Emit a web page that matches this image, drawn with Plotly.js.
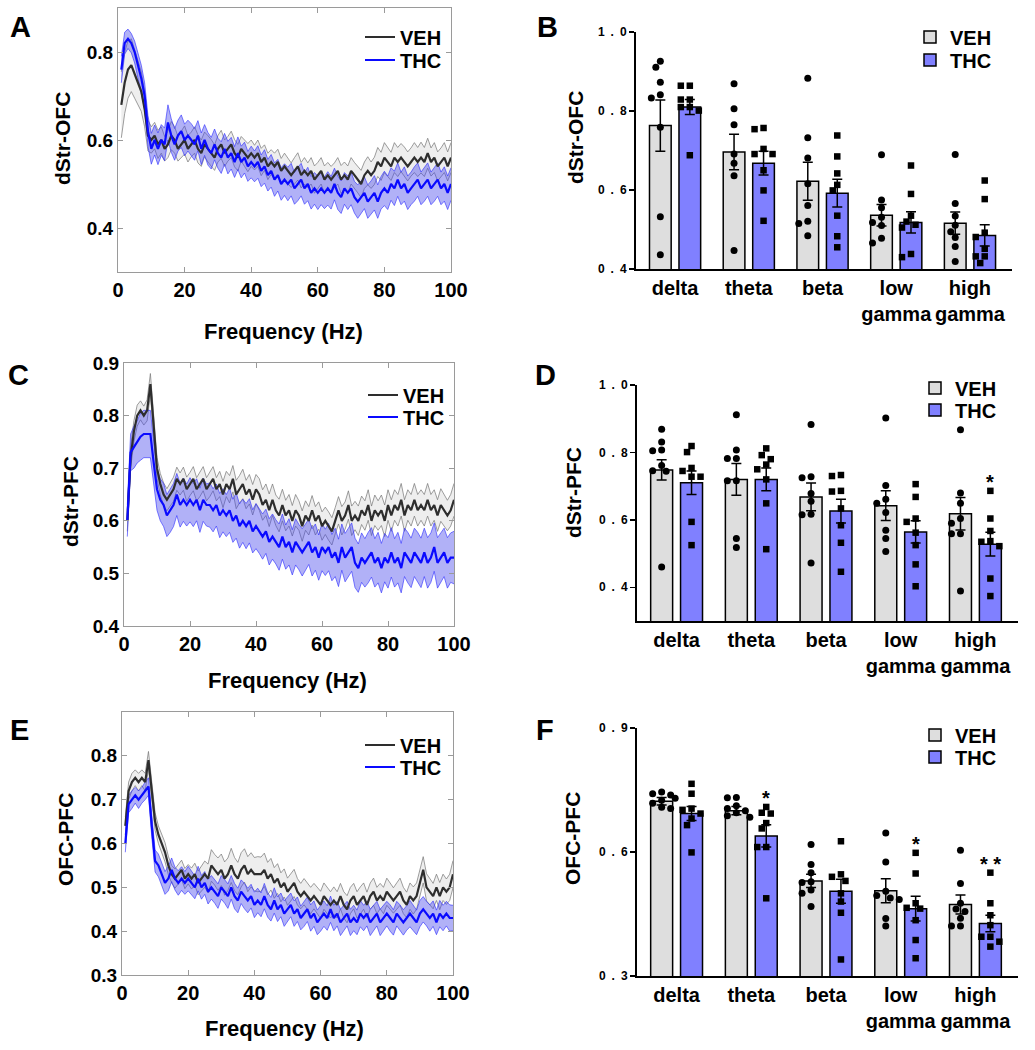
<!DOCTYPE html>
<html><head><meta charset="utf-8">
<script src="https://cdn.plot.ly/plotly-3.0.1.min.js"></script>
<style>html,body{margin:0;padding:0;background:#fff}#chart{width:1035px;height:1050px}</style>
</head><body><div id="chart"></div>
<script>
// ---------- frequency axis (Hz) ----------
const freq = [1,2,3,4,5,6,7,8,9,10,11,12,13,14,15,16,17,18,19,20,21,22,23,24,25,26,27,28,29,30,31,32,33,34,35,36,37,38,39,40,41,42,43,44,45,46,47,48,49,50,51,52,53,54,55,56,57,58,59,60,61,62,63,64,65,66,67,68,69,70,71,72,73,74,75,76,77,78,79,80,81,82,83,84,85,86,87,88,89,90,91,92,93,94,95,96,97,98,99,100];

// ---------- Panel A: dStr-OFC coherence ----------
const A_veh_mean = [0.68,0.73,0.76,0.77,0.75,0.73,0.71,0.67,0.61,0.60,
0.61,0.59,0.60,0.58,0.59,0.61,0.60,0.58,0.59,0.60,
0.58,0.59,0.60,0.58,0.57,0.59,0.58,0.57,0.56,0.58,
0.59,0.57,0.58,0.59,0.57,0.56,0.58,0.57,0.56,0.57,
0.56,0.57,0.55,0.56,0.54,0.55,0.54,0.55,0.53,0.54,
0.53,0.52,0.53,0.54,0.52,0.53,0.52,0.53,0.51,0.52,
0.53,0.51,0.52,0.51,0.52,0.53,0.51,0.52,0.51,0.53,
0.52,0.51,0.50,0.52,0.53,0.52,0.53,0.55,0.54,0.56,
0.55,0.54,0.56,0.55,0.56,0.55,0.54,0.55,0.56,0.55,
0.56,0.55,0.57,0.55,0.56,0.54,0.55,0.56,0.54,0.56];
const A_veh_sem = [0.075,0.07,0.065,0.06,0.055,0.05,0.045,0.04,0.035,0.03,
0.03,0.032,0.03,0.028,0.03,0.032,0.03,0.028,0.03,0.032,
0.03,0.028,0.03,0.032,0.03,0.028,0.03,0.031,0.029,0.03,
0.032,0.03,0.028,0.03,0.031,0.03,0.028,0.03,0.032,0.03,
0.028,0.03,0.031,0.029,0.03,0.028,0.03,0.029,0.028,0.03,
0.029,0.028,0.03,0.031,0.029,0.03,0.028,0.03,0.031,0.029,
0.03,0.031,0.029,0.03,0.028,0.03,0.032,0.03,0.031,0.03,
0.029,0.03,0.031,0.03,0.032,0.03,0.031,0.033,0.032,0.034,
0.033,0.032,0.034,0.033,0.032,0.034,0.033,0.032,0.034,0.033,
0.035,0.033,0.034,0.032,0.034,0.033,0.032,0.034,0.033,0.034];
const A_thc_mean = [0.76,0.82,0.83,0.82,0.80,0.77,0.74,0.70,0.62,0.58,
0.60,0.58,0.60,0.59,0.64,0.61,0.59,0.61,0.62,0.60,
0.61,0.60,0.59,0.61,0.58,0.60,0.58,0.57,0.59,0.57,
0.56,0.58,0.56,0.57,0.55,0.57,0.55,0.56,0.54,0.55,
0.54,0.55,0.53,0.54,0.52,0.53,0.51,0.52,0.50,0.51,
0.50,0.51,0.49,0.50,0.51,0.49,0.50,0.48,0.49,0.48,
0.49,0.48,0.49,0.48,0.50,0.48,0.47,0.49,0.48,0.49,
0.47,0.46,0.47,0.48,0.46,0.47,0.48,0.46,0.48,0.49,
0.48,0.50,0.49,0.51,0.49,0.50,0.48,0.49,0.50,0.51,
0.49,0.50,0.51,0.49,0.50,0.51,0.49,0.50,0.48,0.50];
const A_thc_sem = [0.03,0.025,0.022,0.022,0.025,0.028,0.03,0.03,0.035,0.035,
0.034,0.036,0.035,0.037,0.04,0.038,0.036,0.035,0.037,0.036,
0.035,0.037,0.036,0.034,0.036,0.035,0.037,0.036,0.035,0.034,
0.036,0.035,0.037,0.036,0.035,0.037,0.036,0.035,0.034,0.036,
0.035,0.037,0.036,0.038,0.036,0.037,0.038,0.036,0.037,0.036,
0.038,0.037,0.036,0.038,0.037,0.036,0.038,0.037,0.036,0.038,
0.037,0.036,0.038,0.037,0.036,0.038,0.037,0.036,0.038,0.037,
0.036,0.038,0.037,0.036,0.038,0.037,0.039,0.038,0.037,0.039,
0.038,0.037,0.039,0.038,0.037,0.039,0.038,0.037,0.039,0.038,
0.037,0.039,0.038,0.037,0.039,0.038,0.037,0.039,0.038,0.037];

// ---------- Panel C: dStr-PFC coherence ----------
const C_veh_mean = [0.60,0.72,0.77,0.80,0.81,0.80,0.81,0.86,0.78,0.70,
0.67,0.65,0.64,0.65,0.66,0.68,0.67,0.68,0.66,0.67,
0.68,0.66,0.67,0.68,0.66,0.67,0.68,0.66,0.67,0.65,
0.67,0.66,0.68,0.65,0.66,0.67,0.65,0.66,0.64,0.66,
0.65,0.63,0.64,0.62,0.64,0.62,0.61,0.63,0.61,0.62,
0.60,0.62,0.61,0.59,0.61,0.60,0.62,0.60,0.61,0.59,
0.60,0.59,0.58,0.60,0.62,0.60,0.61,0.63,0.60,0.61,
0.60,0.62,0.61,0.63,0.60,0.62,0.61,0.62,0.60,0.63,
0.61,0.63,0.62,0.64,0.61,0.63,0.62,0.64,0.62,0.63,
0.62,0.64,0.62,0.63,0.61,0.63,0.62,0.61,0.62,0.64];
const C_veh_sem = [0.02,0.02,0.02,0.02,0.018,0.018,0.02,0.02,0.02,0.02,
0.02,0.022,0.021,0.022,0.023,0.022,0.021,0.022,0.023,0.022,
0.023,0.022,0.024,0.023,0.022,0.024,0.023,0.022,0.024,0.025,
0.024,0.026,0.025,0.027,0.026,0.028,0.027,0.028,0.029,0.028,
0.03,0.029,0.03,0.031,0.03,0.029,0.031,0.03,0.029,0.03,
0.029,0.03,0.028,0.029,0.028,0.027,0.028,0.027,0.026,0.027,
0.026,0.027,0.026,0.025,0.026,0.027,0.026,0.027,0.028,0.027,
0.028,0.027,0.028,0.029,0.028,0.029,0.028,0.029,0.03,0.029,
0.03,0.029,0.03,0.031,0.03,0.029,0.03,0.031,0.03,0.029,
0.03,0.031,0.03,0.029,0.03,0.031,0.03,0.029,0.03,0.031];
const C_thc_mean = [0.60,0.73,0.74,0.75,0.76,0.765,0.765,0.765,0.71,0.66,
0.64,0.63,0.61,0.62,0.63,0.65,0.63,0.64,0.63,0.64,
0.63,0.64,0.62,0.64,0.63,0.63,0.62,0.63,0.61,0.62,
0.61,0.62,0.60,0.61,0.59,0.60,0.59,0.60,0.58,0.59,
0.58,0.57,0.58,0.56,0.57,0.56,0.55,0.57,0.55,0.56,
0.54,0.56,0.55,0.54,0.55,0.56,0.54,0.55,0.53,0.55,
0.54,0.55,0.53,0.54,0.52,0.55,0.53,0.54,0.55,0.52,
0.51,0.53,0.52,0.53,0.54,0.52,0.53,0.51,0.53,0.52,
0.54,0.52,0.53,0.51,0.54,0.53,0.52,0.54,0.53,0.52,
0.54,0.52,0.53,0.55,0.52,0.53,0.54,0.52,0.53,0.53];
const C_thc_sem = [0.03,0.035,0.04,0.04,0.045,0.045,0.045,0.045,0.04,0.04,
0.04,0.041,0.04,0.042,0.041,0.04,0.042,0.041,0.04,0.042,
0.041,0.04,0.042,0.041,0.04,0.042,0.041,0.04,0.042,0.041,
0.04,0.042,0.041,0.043,0.042,0.041,0.043,0.042,0.041,0.043,
0.042,0.043,0.042,0.044,0.043,0.042,0.044,0.043,0.042,0.044,
0.043,0.044,0.043,0.045,0.044,0.043,0.045,0.044,0.043,0.045,
0.044,0.045,0.044,0.046,0.045,0.044,0.046,0.045,0.046,0.047,
0.046,0.047,0.046,0.048,0.047,0.046,0.048,0.047,0.046,0.048,
0.047,0.046,0.048,0.047,0.046,0.048,0.047,0.046,0.048,0.047,
0.046,0.048,0.047,0.046,0.048,0.047,0.046,0.048,0.047,0.05];

// ---------- Panel E: OFC-PFC coherence ----------
const E_veh_mean = [0.64,0.72,0.74,0.75,0.74,0.75,0.74,0.79,0.72,0.65,
0.62,0.60,0.58,0.55,0.53,0.52,0.53,0.54,0.52,0.53,
0.52,0.53,0.51,0.52,0.53,0.52,0.55,0.54,0.53,0.54,
0.52,0.53,0.55,0.53,0.52,0.54,0.55,0.53,0.54,0.53,
0.53,0.53,0.54,0.52,0.53,0.51,0.52,0.50,0.51,0.49,
0.50,0.51,0.49,0.48,0.49,0.48,0.47,0.48,0.47,0.46,
0.48,0.47,0.46,0.47,0.46,0.48,0.46,0.45,0.47,0.48,
0.46,0.47,0.48,0.46,0.48,0.49,0.47,0.48,0.47,0.49,
0.48,0.47,0.48,0.49,0.47,0.46,0.48,0.47,0.48,0.51,
0.54,0.50,0.49,0.48,0.50,0.48,0.50,0.49,0.50,0.53];
const E_veh_sem = [0.02,0.02,0.02,0.018,0.02,0.018,0.02,0.02,0.02,0.02,
0.02,0.021,0.022,0.021,0.02,0.022,0.021,0.022,0.023,0.022,
0.024,0.025,0.027,0.028,0.03,0.033,0.036,0.035,0.037,0.036,
0.038,0.037,0.039,0.038,0.037,0.039,0.038,0.04,0.039,0.038,
0.04,0.039,0.038,0.037,0.036,0.035,0.034,0.033,0.032,0.031,
0.03,0.031,0.03,0.029,0.03,0.031,0.03,0.029,0.03,0.031,
0.03,0.029,0.03,0.031,0.03,0.029,0.03,0.031,0.03,0.029,
0.03,0.031,0.03,0.029,0.03,0.031,0.03,0.029,0.03,0.031,
0.03,0.029,0.03,0.031,0.03,0.029,0.03,0.031,0.03,0.029,
0.03,0.031,0.03,0.029,0.03,0.031,0.03,0.029,0.03,0.031];
const E_thc_mean = [0.60,0.69,0.70,0.71,0.70,0.71,0.72,0.73,0.64,0.56,
0.55,0.53,0.51,0.52,0.54,0.52,0.51,0.52,0.51,0.52,
0.51,0.50,0.52,0.50,0.51,0.49,0.50,0.49,0.48,0.50,
0.49,0.48,0.50,0.48,0.47,0.49,0.48,0.47,0.48,0.46,
0.47,0.46,0.48,0.46,0.45,0.47,0.45,0.46,0.44,0.45,
0.46,0.44,0.45,0.43,0.44,0.45,0.43,0.44,0.42,0.43,
0.44,0.43,0.45,0.43,0.44,0.42,0.43,0.44,0.42,0.43,
0.42,0.44,0.43,0.44,0.42,0.43,0.44,0.42,0.43,0.44,
0.43,0.42,0.44,0.43,0.42,0.43,0.44,0.43,0.42,0.44,
0.45,0.44,0.43,0.44,0.42,0.44,0.43,0.44,0.43,0.43];
const E_thc_sem = [0.02,0.02,0.02,0.018,0.02,0.018,0.02,0.02,0.025,0.025,
0.026,0.027,0.026,0.028,0.027,0.026,0.028,0.027,0.026,0.028,
0.027,0.026,0.028,0.027,0.026,0.028,0.027,0.026,0.028,0.027,
0.026,0.028,0.027,0.029,0.028,0.027,0.029,0.028,0.027,0.029,
0.028,0.027,0.029,0.028,0.027,0.029,0.028,0.027,0.029,0.028,
0.027,0.029,0.028,0.027,0.029,0.028,0.03,0.029,0.028,0.03,
0.029,0.028,0.03,0.029,0.028,0.03,0.029,0.028,0.03,0.029,
0.028,0.03,0.029,0.028,0.03,0.029,0.028,0.03,0.029,0.028,
0.03,0.029,0.028,0.03,0.029,0.028,0.03,0.029,0.028,0.03,
0.029,0.028,0.03,0.029,0.028,0.03,0.029,0.028,0.03,0.029];

// ---------- bar panels ----------
const bands = ['delta','theta','beta','low<br>gamma','high<br>gamma'];
const groups = ['VEH','THC'];

// Panel B: dStr-OFC
const B_veh_mean = [0.763,0.696,0.622,0.536,0.516];
const B_veh_sem  = [0.065,0.045,0.048,0.027,0.028];
const B_thc_mean = [0.810,0.668,0.592,0.518,0.485];
const B_thc_sem  = [0.019,0.030,0.035,0.027,0.027];
const B_veh_pts = [
 [0.926,0.911,0.873,0.841,0.833,0.759,0.532,0.436],
 [0.869,0.806,0.765,0.691,0.668,0.636,0.447],
 [0.883,0.732,0.681,0.616,0.561,0.521,0.515,0.484],
 [0.689,0.575,0.555,0.531,0.518,0.510,0.478,0.466],
 [0.690,0.566,0.534,0.511,0.494,0.480,0.457,0.419]];
const B_thc_pts = [
 [0.864,0.864,0.829,0.829,0.810,0.810,0.801,0.688],
 [0.757,0.754,0.704,0.691,0.691,0.650,0.599,0.522],
 [0.738,0.685,0.642,0.613,0.599,0.535,0.483,0.455],
 [0.662,0.590,0.535,0.520,0.512,0.505,0.438,0.430],
 [0.624,0.577,0.492,0.481,0.451,0.432,0.432,0.415]];
const B_sig = ['','','','',''];

// Panel D: dStr-PFC
const D_veh_mean = [0.748,0.720,0.668,0.642,0.618];
const D_veh_sem  = [0.030,0.047,0.041,0.044,0.048];
const D_thc_mean = [0.710,0.720,0.626,0.564,0.528];
const D_thc_sem  = [0.035,0.034,0.035,0.033,0.035];
const D_veh_pts = [
 [0.869,0.831,0.807,0.805,0.761,0.746,0.744,0.460],
 [0.912,0.807,0.782,0.782,0.716,0.716,0.545,0.518],
 [0.883,0.728,0.725,0.678,0.655,0.617,0.615,0.472],
 [0.902,0.702,0.661,0.649,0.622,0.569,0.545,0.506],
 [0.867,0.680,0.649,0.604,0.590,0.559,0.559,0.389]];
const D_thc_pts = [
 [0.819,0.801,0.754,0.745,0.728,0.728,0.594,0.525],
 [0.812,0.792,0.780,0.764,0.750,0.720,0.649,0.513],
 [0.733,0.730,0.686,0.684,0.634,0.584,0.532,0.446],
 [0.706,0.668,0.604,0.594,0.562,0.525,0.468,0.403],
 [0.686,0.604,0.567,0.537,0.535,0.522,0.426,0.374]];
const D_sig = ['','','','','*'];

// Panel F: OFC-PFC
const F_veh_mean = [0.723,0.700,0.530,0.506,0.473];
const F_veh_sem  = [0.009,0.010,0.016,0.029,0.023];
const F_thc_mean = [0.693,0.639,0.505,0.463,0.427];
const F_thc_sem  = [0.017,0.027,0.029,0.030,0.020];
const F_veh_pts = [
 [0.745,0.741,0.738,0.730,0.725,0.718,0.708,0.705],
 [0.732,0.731,0.712,0.705,0.700,0.695,0.688,0.684],
 [0.618,0.570,0.550,0.528,0.526,0.508,0.500,0.468],
 [0.646,0.576,0.505,0.495,0.489,0.485,0.439,0.421],
 [0.604,0.524,0.476,0.462,0.456,0.440,0.421,0.421]];
const F_thc_pts = [
 [0.765,0.741,0.705,0.702,0.693,0.681,0.665,0.599],
 [0.709,0.695,0.693,0.670,0.657,0.612,0.612,0.488],
 [0.626,0.546,0.540,0.530,0.500,0.480,0.453,0.340],
 [0.598,0.548,0.476,0.465,0.463,0.435,0.387,0.343],
 [0.550,0.476,0.447,0.423,0.395,0.395,0.383,0.371]];
const F_sig = ['','*','','*','* *'];

// ---------- layout helpers ----------
const W = 1035, H = 1050;
const X = px => px / W;
const Y = py => 1 - py / H;
const FONT = 'Liberation Sans, Arial, Helvetica, sans-serif';
const bold = (s) => ({family: FONT, size: s, color: '#000', weight: 'bold'});

const traces = [];
const layout = {
  width: W, height: H, margin: {l:0, r:0, t:0, b:0},
  paper_bgcolor: '#fff', plot_bgcolor: '#fff',
  font: {family: FONT, color: '#000'},
  showlegend: true, annotations: [], barmode: 'overlay'
};
let legCount = 0;
function newLegend(xpx, ypx, itemwidth) {
  legCount++;
  const id = legCount === 1 ? 'legend' : 'legend' + legCount;
  const L = {x:X(xpx), y:Y(ypx), xanchor:'left', yanchor:'middle', bgcolor:'rgba(0,0,0,0)',
    font:bold(20), traceorder:'normal', borderwidth:0};
  if (itemwidth) L.itemwidth = itemwidth;
  layout[id] = L;
  return id;
}

// ---------- line panels ----------
const linePanels = [
  {n:1, vm:A_veh_mean, vs:A_veh_sem, tm:A_thc_mean, ts:A_thc_sem, dom:[118,451,8,272], yr:[0.3,0.9], yt:[0.4,0.6,0.8], title:'dStr-OFC', tx:62, ty:139, fx:283, fy:331, leg:[360,37,60]},
  {n:3, vm:C_veh_mean, vs:C_veh_sem, tm:C_thc_mean, ts:C_thc_sem, dom:[124,454,363,626], yr:[0.4,0.9], yt:[0.4,0.5,0.6,0.7,0.8,0.9], title:'dStr-PFC', tx:70, ty:502, fx:287, fy:680, leg:[363,395,417]},
  {n:5, vm:E_veh_mean, vs:E_veh_sem, tm:E_thc_mean, ts:E_thc_sem, dom:[122,453,712,975], yr:[0.3,0.9], yt:[0.3,0.4,0.5,0.6,0.7,0.8], title:'OFC-PFC', tx:65, ty:840, fx:284, fy:1028, leg:[360,745,767]}
];
linePanels.forEach(p => {
  const xa = p.n === 1 ? 'x' : 'x' + p.n, ya = p.n === 1 ? 'y' : 'y' + p.n;
  const series = [
    {name:'VEH', m:p.vm, s:p.vs, line:'#2e2e2e', edge:'rgba(120,120,120,0.9)', fill:'rgba(205,205,205,0.35)', ly:p.leg[1]},
    {name:'THC', m:p.tm, s:p.ts, line:'#0a0aff', edge:'rgba(40,40,255,0.75)', fill:'rgba(70,70,235,0.42)', ly:p.leg[2]}
  ];
  series.forEach(sr => {
    traces.push({type:'scatter', mode:'lines', x:freq, y:sr.m.map((v,i)=>v - sr.s[i]), xaxis:xa, yaxis:ya,
      line:{color:sr.edge, width:0.8}, showlegend:false, hoverinfo:'skip'});
    traces.push({type:'scatter', mode:'lines', x:freq, y:sr.m.map((v,i)=>v + sr.s[i]), xaxis:xa, yaxis:ya,
      fill:'tonexty', fillcolor:sr.fill, line:{color:sr.edge, width:0.8}, showlegend:false, hoverinfo:'skip'});
  });
  series.forEach(sr => {
    traces.push({type:'scatter', mode:'lines', name:sr.name, x:freq, y:sr.m, xaxis:xa, yaxis:ya,
      line:{color:sr.line, width:2.2}, legend:newLegend(p.leg[0], sr.ly, 30)});
  });
  const axx = p.n === 1 ? 'xaxis' : 'xaxis' + p.n, axy = p.n === 1 ? 'yaxis' : 'yaxis' + p.n;
  const common = {showline:true, linecolor:'#9a9a9a', linewidth:1, mirror:'ticks', ticks:'inside', ticklen:5,
    tickcolor:'#9a9a9a', showgrid:false, zeroline:false, tickfont:bold(20)};
  layout[axx] = Object.assign({}, common, {domain:[X(p.dom[0]), X(p.dom[1])], anchor:ya, range:[0,100],
    tickvals:[0,20,40,60,80,100], tickangle:0});
  layout[axy] = Object.assign({}, common, {domain:[Y(p.dom[3]), Y(p.dom[2])], anchor:xa, range:p.yr,
    tickvals:p.yt, ticktext:p.yt.map(v=>v.toFixed(1)), tickfont:bold(19)});
  layout.annotations.push({xref:'paper', yref:'paper', x:X(p.tx), y:Y(p.ty), text:p.title, textangle:-90,
    showarrow:false, font:bold(21), xanchor:'center', yanchor:'middle'});
  layout.annotations.push({xref:'paper', yref:'paper', x:X(p.fx), y:Y(p.fy), text:'Frequency (Hz)',
    showarrow:false, font:bold(22), xanchor:'center', yanchor:'middle'});
});

// ---------- bar panels ----------
const barPanels = [
  {n:2, vm:B_veh_mean, vs:B_veh_sem, tm:B_thc_mean, ts:B_thc_sem, vp:B_veh_pts, tp:B_thc_pts, sig:B_sig,
   dom:[636,1012,32,269], yr:[0.4,1.0], yt:[0.4,0.6,0.8,1.0], title:'dStr-OFC', tx:575, ty:138, leg:[910,37,60]},
  {n:4, vm:D_veh_mean, vs:D_veh_sem, tm:D_thc_mean, ts:D_thc_sem, vp:D_veh_pts, tp:D_thc_pts, sig:D_sig,
   dom:[637,1018,385,621], yr:[0.3,1.0], yt:[0.4,0.6,0.8,1.0], title:'dStr-PFC', tx:574, ty:493, leg:[915,388,410]},
  {n:6, vm:F_veh_mean, vs:F_veh_sem, tm:F_thc_mean, ts:F_thc_sem, vp:F_veh_pts, tp:F_thc_pts, sig:F_sig,
   dom:[637,1018,728,976], yr:[0.3,0.9], yt:[0.3,0.6,0.9], title:'OFC-PFC', tx:572, ty:839, leg:[915,735,757]}
];
const XR = [-0.53, 4.57];
const idx = bands.map((b,i)=>i);
const spacedTick = v => v.toFixed(1).split('').join('\u2002');

barPanels.forEach(p => {
  const xa = 'x' + p.n, ya = 'y' + p.n;
  const wpx = p.dom[1] - p.dom[0], hpx = p.dom[3] - p.dom[2];
  const pxPerX = wpx / (XR[1] - XR[0]), pxPerY = hpx / (p.yr[1] - p.yr[0]);
  const defs = [
    {name:'VEH', m:p.vm, s:p.vs, pts:p.vp, off:-0.2, color:'#dedede', sym:'circle', msize:7, ly:p.leg[1]},
    {name:'THC', m:p.tm, s:p.ts, pts:p.tp, off:0.2, color:'#8080ff', sym:'square', msize:6.5, ly:p.leg[2]}
  ];
  defs.forEach(d => {
    traces.push({type:'bar', name:d.name, x:idx.map(i=>i + d.off), y:d.m, width:0.294, xaxis:xa, yaxis:ya,
      marker:{color:d.color, line:{color:'#000', width:1.5}}, legend:newLegend(p.leg[0], d.ly),
      error_y:{type:'data', array:d.s, visible:true, color:'#000', thickness:1.5, width:5}});
  });
  defs.forEach(d => {
    const px = [], py = [];
    d.pts.forEach((arr, ci) => {
      const placed = [];
      const cands = [0, -4.5, 4.5, -9, 9, -13.5, 13.5];
      arr.forEach(v => {
        const ypx = v * pxPerY;
        let chosen = cands[cands.length - 1];
        for (const c of cands) {
          if (placed.every(q => Math.hypot(q[0] - c, q[1] - ypx) >= 7)) { chosen = c; break; }
        }
        placed.push([chosen, ypx]);
        px.push(ci + d.off + chosen / pxPerX);
        py.push(v);
      });
    });
    traces.push({type:'scatter', mode:'markers', x:px, y:py, xaxis:xa, yaxis:ya, showlegend:false,
      marker:{symbol:d.sym, size:d.msize, color:'#000'}, hoverinfo:'y', cliponaxis:false});
  });
  p.sig.forEach((s, ci) => {
    if (!s) return;
    layout.annotations.push({xref:xa, yref:ya, x:ci + 0.2, y:Math.max(...p.tp[ci]), text:s, showarrow:false,
      font:bold(20), xanchor:'center', yanchor:'bottom', yshift:-4});
  });
  layout['xaxis' + p.n] = {domain:[X(p.dom[0]), X(p.dom[1])], anchor:ya, range:XR, showline:true, linecolor:'#000',
    linewidth:2, ticks:'', tickvals:idx, ticktext:bands, tickfont:bold(20), tickangle:0, showgrid:false, zeroline:false};
  layout['yaxis' + p.n] = {domain:[Y(p.dom[3]), Y(p.dom[2])], anchor:xa, range:p.yr, showline:true, linecolor:'#000',
    linewidth:2, ticks:'outside', ticklen:5, tickwidth:1.5, tickcolor:'#000', tickvals:p.yt,
    ticktext:p.yt.map(spacedTick), tickfont:bold(12), showgrid:false, zeroline:false};
  layout.annotations.push({xref:'paper', yref:'paper', x:X(p.tx), y:Y(p.ty), text:p.title, textangle:-90,
    showarrow:false, font:bold(21), xanchor:'center', yanchor:'middle'});
});

// ---------- panel letters ----------
const letters = [['A',20,27],['B',547,27],['C',18,375],['D',545,375],['E',19,730],['F',545,730]];
letters.forEach(l => layout.annotations.push({xref:'paper', yref:'paper', x:X(l[1]), y:Y(l[2]), text:l[0],
  showarrow:false, font:bold(29), xanchor:'center', yanchor:'middle'}));

Plotly.newPlot('chart', traces, layout, {displayModeBar:false, staticPlot:true});
</script></body></html>
